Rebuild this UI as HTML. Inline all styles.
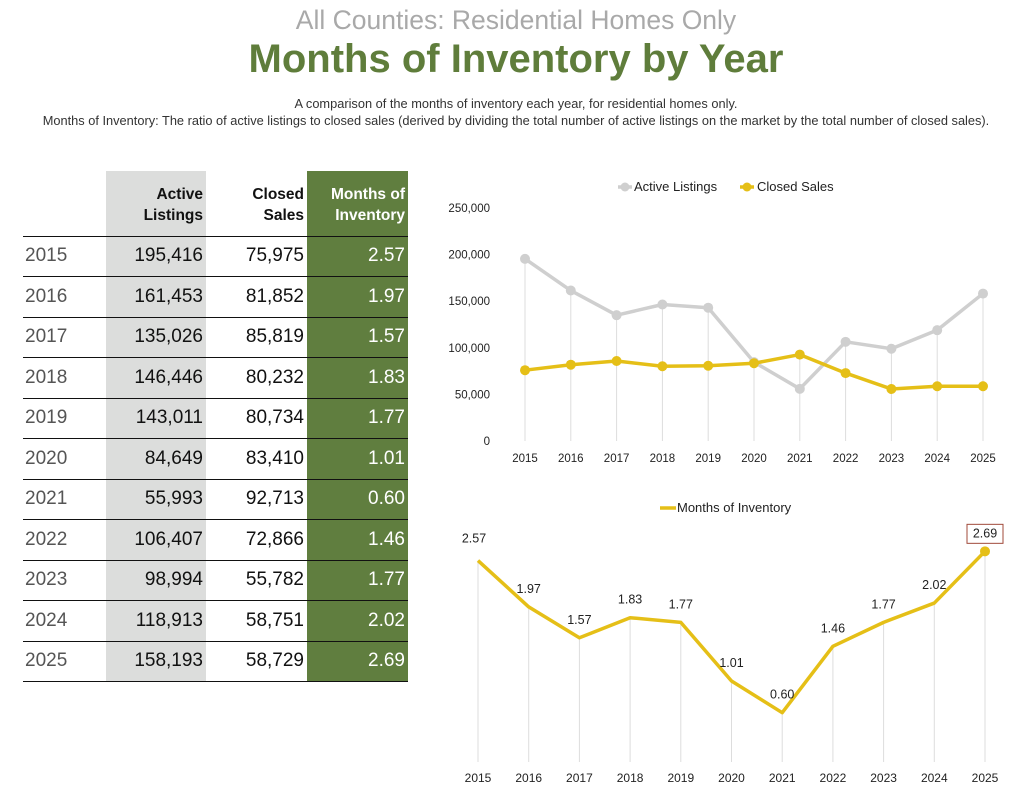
<!DOCTYPE html>
<html><head><meta charset="utf-8"><style>
body{margin:0;width:1032px;height:790px;background:#fff;font-family:"Liberation Sans",sans-serif;position:relative;overflow:hidden;color:#111}
.abs{position:absolute}
#t1{left:0;width:1032px;top:5px;text-align:center;font-size:26.5px;color:#a9a9a9;font-weight:300}
#t2{left:0;width:1032px;top:37px;text-align:center;font-size:40px;color:#5f7d3b;font-weight:bold}
#d1,#d2{left:0;width:1032px;text-align:center;font-size:12.8px;color:#333}
#d1{top:96px}#d2{top:113px}
table{position:absolute;left:23px;top:171px;border-collapse:collapse;font-size:19px}
td{height:40.5px;padding:0 3px 0 3px;text-align:right;border-bottom:1.3px solid #111;box-sizing:border-box}
td.y{width:83px;text-align:left;color:#555;font-weight:300;padding-left:2px}
td.a{width:100px;background:#dcdddc}
td.c{width:101px}
td.m{width:101px;background:#607e3f;color:#fff}
tr.h td{height:65px;font-size:15.5px;font-weight:bold;vertical-align:bottom;padding-bottom:10px;line-height:21px}
svg text{font-family:"Liberation Sans",sans-serif}
</style></head><body>
<div id="t1" class="abs">All Counties: Residential Homes Only</div>
<div id="t2" class="abs">Months of Inventory by Year</div>
<div id="d1" class="abs">A comparison of the months of inventory each year, for residential homes only.</div>
<div id="d2" class="abs">Months of Inventory: The ratio of active listings to closed sales (derived by dividing the total number of active listings on the market by the total number of closed sales).</div>
<table id="tbl"><tbody id="tb">
<tr class="h"><td class="y"></td><td class="a">Active<br>Listings</td><td class="c">Closed<br>Sales</td><td class="m">Months of<br>Inventory</td></tr>
</tbody></table>
<svg class="abs" style="left:0;top:0" width="1032" height="790" id="sv"></svg>
<script>
const years=["2015","2016","2017","2018","2019","2020","2021","2022","2023","2024","2025"];
const active=[195416,161453,135026,146446,143011,84649,55993,106407,98994,118913,158193];
const closed=[75975,81852,85819,80232,80734,83410,92713,72866,55782,58751,58729];
const moi=[2.57,1.97,1.57,1.83,1.77,1.01,0.60,1.46,1.77,2.02,2.69];
const yTicks=[0,50000,100000,150000,200000,250000];
const fmt=n=>n.toLocaleString('en-US');
const tb=document.getElementById('tb');
years.forEach((y,i)=>{
  const tr=document.createElement('tr');
  
  
  tr.innerHTML='<td class="y">'+y+'</td><td class="a">'+fmt(active[i])+'</td><td class="c">'+fmt(closed[i])+'</td><td class="m">'+moi[i].toFixed(2)+'</td>';
  tb.appendChild(tr);
});
const sv=document.getElementById('sv');const NS='http://www.w3.org/2000/svg';
function el(t,a,txt){const e=document.createElementNS(NS,t);for(const k in a)e.setAttribute(k,a[k]);if(txt!==undefined)e.textContent=txt;sv.appendChild(e);return e;}
const x1=i=>525+i*(983-525)/(years.length-1);
const y1=v=>441-v*(441-208)/250000;
yTicks.forEach(t=>{const e=el('text',{x:490,y:y1(t)+4,'text-anchor':'end','font-size':11.5,fill:'#222'},fmt(t));
});
years.forEach((y,i)=>{
  const g=el('line',{x1:x1(i),x2:x1(i),y1:y1(Math.max(active[i],closed[i])),y2:y1(0),stroke:'#ddd','stroke-width':1});
  
  const t=el('text',{x:x1(i),y:462,'text-anchor':'middle','font-size':11.5,fill:'#222'},y);
  
});
function series(arr,xf,yf,col,name,dots){
  const p=el('polyline',{points:arr.map((v,i)=>xf(i)+','+yf(v)).join(' '),fill:'none',stroke:col,'stroke-width':3.5,'stroke-linejoin':'round'});
  
  if(dots)arr.forEach((v,i)=>{const c=el('circle',{cx:xf(i),cy:yf(v),r:5,fill:col});
  });
}
series(active,x1,y1,'#cfcfcf','active-listings',true);
series(closed,x1,y1,'#e5bf17','closed-sales',true);
let l=el('line',{x1:618,x2:632,y1:187,y2:187,stroke:'#cfcfcf','stroke-width':3.5});
l=el('circle',{cx:625,cy:187,r:4.5,fill:'#cfcfcf'});
l=el('text',{x:634,y:191,'font-size':13,fill:'#222'},'Active Listings');
l=el('line',{x1:740,x2:754,y1:187,y2:187,stroke:'#e5bf17','stroke-width':3.5});
l=el('circle',{cx:747,cy:187,r:4.5,fill:'#e5bf17'});
l=el('text',{x:757,y:191,'font-size':13,fill:'#222'},'Closed Sales');
const x2=i=>478+i*(985-478)/(years.length-1);
const y2=v=>759-v*77.2;
years.forEach((y,i)=>{
  const g=el('line',{x1:x2(i),x2:x2(i),y1:y2(moi[i]),y2:762,stroke:'#ddd','stroke-width':1});
  
  const t=el('text',{x:x2(i),y:782,'text-anchor':'middle','font-size':12,fill:'#222'},y);
  
});
series(moi,x2,y2,'#e5bf17','months-of-inventory',false);
const last=moi.length-1;
l=el('circle',{cx:x2(last),cy:y2(moi[last]),r:5,fill:'#e5bf17'});
moi.forEach((v,i)=>{
  const t=el('text',{x:x2(i)+(i==0?-4:0),y:y2(v)-14-(i==0?4:0),'text-anchor':'middle','font-size':12.5,fill:'#222'},v.toFixed(2));
  
});
l=el('rect',{x:x2(last)-18,y:y2(moi[last])-27,width:36,height:19,fill:'none',stroke:'#a04a3a','stroke-width':1});

l=el('line',{x1:660,x2:676,y1:508,y2:508,stroke:'#e5bf17','stroke-width':3.5});
l=el('text',{x:677,y:512,'font-size':13,fill:'#222'},'Months of Inventory');
</script>
</body></html>
